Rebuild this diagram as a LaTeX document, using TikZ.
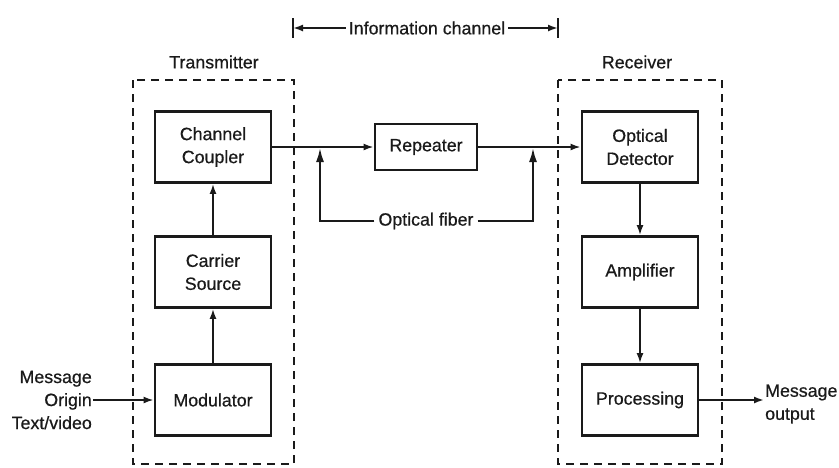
\documentclass[tikz,border=0pt]{standalone}
\usepackage{fontspec}
\setmainfont{Liberation Sans}[FakeBold=0.6]
\usetikzlibrary{arrows.meta}
\definecolor{ink}{HTML}{1a1a1a}

\begin{document}
\begin{tikzpicture}[x=1pt, y=-1pt, ink,
        font=\fontsize{17.8}{23}\selectfont,
        blk/.style={draw, line width=2.8pt, minimum width=116pt, minimum height=71pt, align=center, inner sep=0pt},
        unit/.style={draw, dash pattern=on 8pt off 6pt, line width=2.4pt},
        wire/.style={line width=1.8pt, -{Latex[length=10pt, width=7pt]}},
        fib/.style={line width=2pt, -{Latex[length=14pt, width=8pt]}}]
        \useasboundingbox (0, 0) rectangle (839, 467);
	\draw [unit] (133, 80) rectangle (294, 464);
	\draw [unit] (558, 80) rectangle (722, 464);
	\node (tx) at (214, 62) {Transmitter};
	\node (rx) at (637, 62) {Receiver};

	\node [blk] (coupler) at (213, 147) {Channel\\Coupler};
	\node [blk] (carrier) at (213, 272) {Carrier\\Source};
	\node [blk] (modulator) at (213, 400) {Modulator};
	\node [blk, minimum width=102pt, minimum height=46pt] (repeater) at (426, 147) {Repeater};
	\node [blk] (detector) at (640, 147) {Optical\\Detector};
	\node [blk] (amplifier) at (640, 272) {Amplifier};
	\node [blk] (processing) at (640, 400) {Processing};

	\node [anchor=east, align=right, inner sep=1pt] (msgin) at (93, 400) {Message\\Origin\\Text/video};
	\node [anchor=west, align=left, inner sep=1pt] (msgout) at (764, 404) {Message\\output};
	\node [inner sep=3pt] (chan) at (427, 28) {Information channel};
	\node [inner sep=4pt] (fiber) at (426, 221) {Optical fiber};

	\draw [wire] (msgin.east) -- (modulator.west);
	\draw [wire] (modulator.north) -- (carrier.south);
	\draw [wire] (carrier.north) -- (coupler.south);
	\draw [wire] (coupler.east) -- (repeater.west);
	\draw [wire] (repeater.east) -- (detector.west);
	\draw [wire] (detector.south) -- (amplifier.north);
	\draw [wire] (amplifier.south) -- (processing.north);
	\draw [wire] (processing.east) -- (processing.east -| msgout.west);

	\coordinate (fa) at (320, 148);
	\coordinate (fb) at (533, 148);
	\draw [fib] (fiber.west) -| (fa);
	\draw [fib] (fiber.east) -| (fb);

	\coordinate (cl) at (293, 28);
	\coordinate (cr) at (558, 28);
	\draw [wire] (chan.west) -- (cl);
	\draw [wire] (chan.east) -- (cr);
	\draw [line width=1.8pt] (cl) ++(0, -10) -- ++(0, 20);
	\draw [line width=1.8pt] (cr) ++(0, -10) -- ++(0, 20);
\end{tikzpicture}
\end{document}
